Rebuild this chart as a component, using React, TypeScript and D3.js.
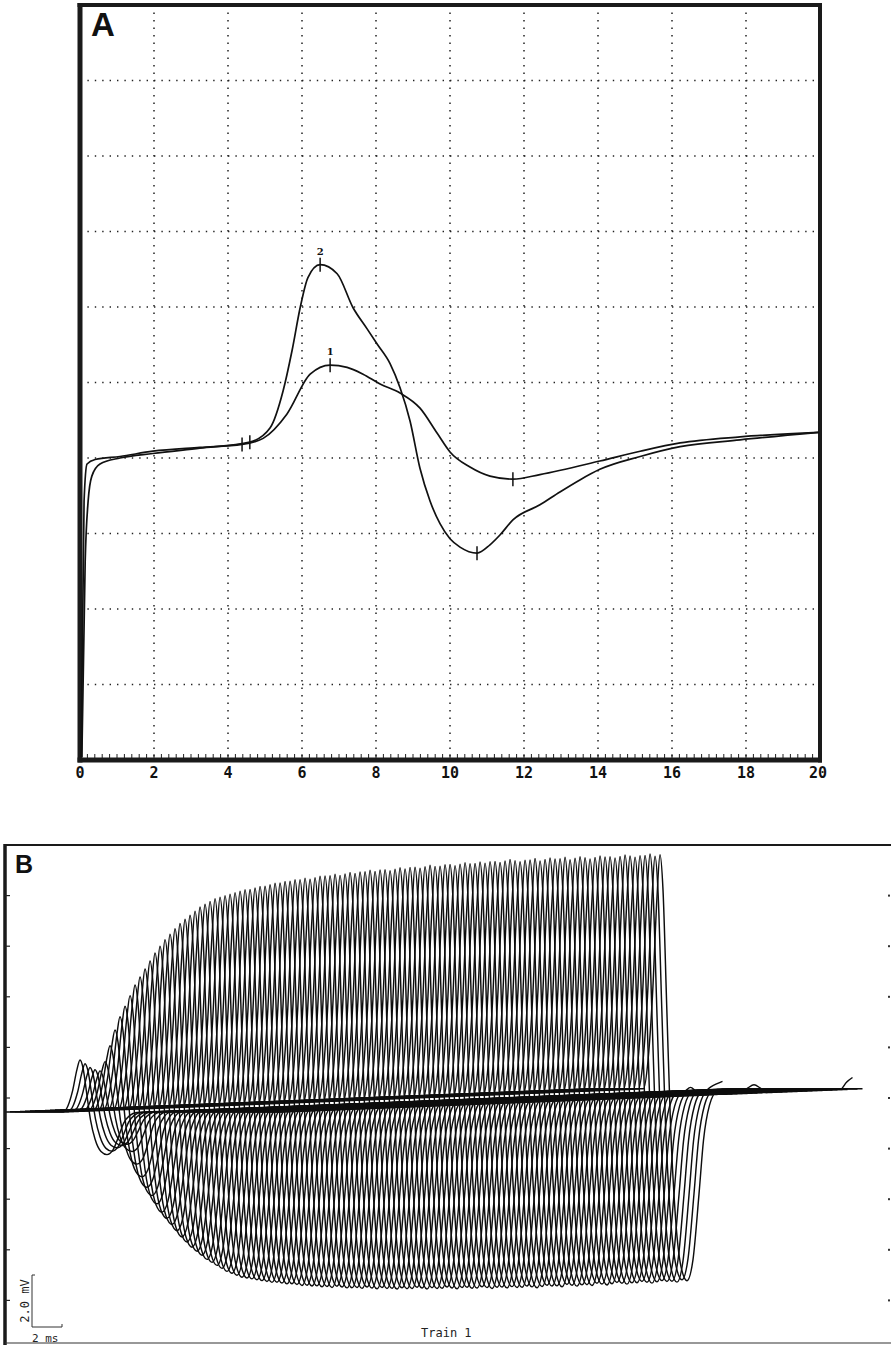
import { useEffect, useRef } from "react";
import * as d3 from "d3";

type Pt = [number, number];

// ---- panel A: two averaged responses, time in ms, amplitude in screen divisions
const respOne: Pt[] = [
  [0.03, 0.04], [0.11, 3.43], [0.19, 3.92], [0.41, 3.98], [1.08, 4.02], [1.97, 4.09],
  [3.24, 4.14], [4.38, 4.18], [4.95, 4.26], [5.59, 4.58], [6.22, 5.11], [6.76, 5.23],
  [7.22, 5.2], [7.65, 5.11], [8.11, 4.98], [8.65, 4.86], [9.19, 4.66], [9.65, 4.33],
  [10.0, 4.08], [10.54, 3.88], [11.08, 3.76], [11.7, 3.72], [12.43, 3.78], [14.05, 3.96],
  [15.14, 4.09], [16.22, 4.2], [17.84, 4.28], [19.97, 4.34],
];
const respTwo: Pt[] = [
  [0.05, 0.04], [0.14, 2.63], [0.22, 3.43], [0.32, 3.76], [0.54, 3.92], [1.08, 4.0],
  [1.97, 4.06], [3.24, 4.13], [4.59, 4.21], [5.14, 4.4], [5.49, 4.89], [5.73, 5.42],
  [5.95, 5.99], [6.16, 6.39], [6.49, 6.56], [6.95, 6.44], [7.38, 5.99], [7.76, 5.71],
  [8.03, 5.51], [8.38, 5.25], [8.65, 4.93], [8.92, 4.49], [9.19, 3.86], [9.46, 3.43],
  [9.73, 3.13], [10.0, 2.93], [10.27, 2.82], [10.73, 2.74], [11.08, 2.85], [11.35, 2.98],
  [11.7, 3.18], [12.43, 3.38], [12.97, 3.55], [13.51, 3.71], [14.05, 3.85], [15.14, 4.02],
  [16.22, 4.15], [17.84, 4.24], [19.97, 4.34],
];
// cursor marks: onset, peak, trough
const cursorsOne: Pt[] = [[4.38, 4.18], [6.76, 5.23], [11.7, 3.72]];
const cursorsTwo: Pt[] = [[4.59, 4.21], [6.49, 6.56], [10.73, 2.74]];
const timeTicksA = [0, 2, 4, 6, 8, 10, 12, 14, 16, 18, 20];
const divisionsA = [1, 2, 3, 4, 5, 6, 7, 8, 9];

// ---- panel B: repetitive stimulation train, one CMAP per sweep
// normalised CMAP shape (ms after stimulus, fraction of the positive peak)
const cmapShape: Pt[] = [
  [0, 0], [3.9, 0], [4.2, 0.12], [4.5, 0.4], [4.8, 0.82], [5.0, 1.0], [5.2, 0.85],
  [5.45, 0.35], [5.7, -0.15], [6.0, -0.52], [6.4, -0.76], [6.8, -0.82], [7.2, -0.73],
  [7.6, -0.45], [7.9, -0.22], [8.3, -0.07], [8.8, -0.01], [9.5, 0], [18.5, 0],
];
// positive peak amplitude of each sweep, mV
const sweepAmps = [
  2.0, 1.85, 1.7, 1.6, 1.55, 1.9, 2.5, 3.1, 3.6, 4.0,
  4.4, 4.8, 5.1, 5.4, 5.7, 6.0, 6.25, 6.5, 6.7, 6.9,
  7.1, 7.25, 7.4, 7.55, 7.7, 7.8, 7.9, 8.0, 8.05, 8.1,
  8.15, 8.2, 8.25, 8.3, 8.3, 8.35, 8.4, 8.4, 8.45, 8.5,
  8.5, 8.55, 8.55, 8.6, 8.6, 8.65, 8.6, 8.65, 8.7, 8.7,
  8.7, 8.75, 8.7, 8.75, 8.8, 8.75, 8.8, 8.8, 8.85, 8.8,
  8.85, 8.85, 8.8, 8.85, 8.9, 8.85, 8.9, 8.9, 8.85, 8.9,
  8.95, 8.9, 8.9, 8.95, 8.95, 8.9, 8.95, 9.0, 8.95, 8.95,
  9.0, 8.95, 9.0, 9.0, 8.95, 9.0, 9.05, 9.0, 8.95, 9.0,
  9.0, 9.05, 8.95, 9.0, 9.05, 9.0, 9.0, 9.05, 8.95, 9.0,
  9.05, 9.0, 8.95, 9.0, 9.05, 9.0, 9.0, 8.95, 9.0, 9.05,
  9.0, 8.95, 9.0, 9.0, 9.05, 8.95, 9.0,
];
// small late waves: sweep, centre ms, height mV, half width ms
const lateWaves: [number, number, number, number][] = [
  [84, 17.7, 0.3, 0.6],
  [88, 18.5, 0.5, 1.5],
  [97, 17.6, 0.3, 0.8],
  [114, 18.5, 0.45, 0.8],
];
const divisionsB = [1, 2, 3, 4, 5, 6, 7, 8, 9];

const mono = "'DejaVu Sans Mono', monospace";
const sans = "'Liberation Sans', Arial, sans-serif";

function drawA(g: d3.Selection<SVGGElement, unknown, null, undefined>) {
  const x = d3.scaleLinear().domain([0, 20]).range([80, 820]);
  const y = d3.scaleLinear().domain([0, 10]).range([760, 5]);

  g.selectAll("line.vgrid").data(timeTicksA.slice(1, -1)).join("line")
    .attr("class", "vgrid")
    .attr("x1", d => x(d)).attr("x2", d => x(d))
    .attr("y1", y(10)).attr("y2", y(0))
    .attr("stroke", "#222").attr("stroke-width", 1.5)
    .attr("stroke-dasharray", "1.4 6.1");
  g.selectAll("line.hgrid").data(divisionsA).join("line")
    .attr("class", "hgrid")
    .attr("x1", x(0)).attr("x2", x(20))
    .attr("y1", d => y(d)).attr("y2", d => y(d))
    .attr("stroke", "#222").attr("stroke-width", 1.5)
    .attr("stroke-dasharray", "1.4 6");

  // minor ticks along the time axis
  g.selectAll("line.minor").data(d3.range(1, 100).map(k => k * 0.2)).join("line")
    .attr("class", "minor")
    .attr("x1", d => x(d)).attr("x2", d => x(d))
    .attr("y1", y(0) - 2).attr("y2", y(0) - 6)
    .attr("stroke", "#222").attr("stroke-width", 1);

  // frame
  const frame = g.append("g").attr("stroke", "#1a1a1a").attr("fill", "none");
  frame.append("line").attr("x1", x(0)).attr("x2", x(0)).attr("y1", y(10) - 2).attr("y2", y(0) + 2.5).attr("stroke-width", 5);
  frame.append("line").attr("x1", x(0) - 2.5).attr("x2", x(20) + 2).attr("y1", y(0)).attr("y2", y(0)).attr("stroke-width", 5);
  frame.append("line").attr("x1", x(0) - 2.5).attr("x2", x(20) + 2).attr("y1", y(10)).attr("y2", y(10)).attr("stroke-width", 4);
  frame.append("line").attr("x1", x(20)).attr("x2", x(20)).attr("y1", y(10) - 2).attr("y2", y(0) + 2.5).attr("stroke-width", 4);

  g.selectAll("text.tick").data(timeTicksA).join("text")
    .attr("class", "tick")
    .attr("x", d => x(d) - (d === 20 ? 2 : 0)).attr("y", y(0) + 18)
    .attr("text-anchor", "middle")
    .attr("font-family", mono).attr("font-weight", "bold").attr("font-size", 15)
    .attr("fill", "#111")
    .text(d => d);

  const line = d3.line<Pt>().x(d => x(d[0])).y(d => y(d[1])).curve(d3.curveMonotoneX);
  [respOne, respTwo].forEach(r => {
    g.append("path").datum(r)
      .attr("d", line)
      .attr("fill", "none").attr("stroke", "#111").attr("stroke-width", 1.7);
  });

  [cursorsOne, cursorsTwo].forEach((cs, k) => {
    g.selectAll("line.cur" + k).data(cs).join("line")
      .attr("class", "cur" + k)
      .attr("x1", d => x(d[0])).attr("x2", d => x(d[0]))
      .attr("y1", d => y(d[1]) - 7).attr("y2", d => y(d[1]) + 7)
      .attr("stroke", "#111").attr("stroke-width", 1.5);
    const peak = cs[1];
    g.append("text")
      .attr("x", x(peak[0])).attr("y", y(peak[1]) - 10)
      .attr("text-anchor", "middle")
      .attr("font-family", "'DejaVu Serif', serif").attr("font-weight", "bold").attr("font-size", 10)
      .attr("fill", "#111")
      .text(k + 1);
  });

  g.append("text")
    .attr("x", 91).attr("y", 36)
    .attr("font-family", sans).attr("font-weight", "bold").attr("font-size", 33)
    .attr("fill", "#111")
    .text("A");
}

function drawB(g: d3.Selection<SVGGElement, unknown, null, undefined>) {
  const xB = d3.scaleLinear().domain([0, 59]).range([5, 890]);   // 15 px per ms
  const yB = d3.scaleLinear().domain([0, 10]).range([1112, 852]); // 26 px per mV
  const div = d3.scaleLinear().domain([0, 10]).range([845, 1351]);
  const sweepDx = 5;
  const sweepDy = -0.2;
  const sweepLen = 18.5;

  const line = d3.line<Pt>().x(d => xB(d[0])).y(d => yB(d[1])).curve(d3.curveMonotoneX);

  const traces = g.append("g").attr("fill", "none").attr("stroke", "#0d0d0d").attr("stroke-width", 1.45);
  sweepAmps.forEach((amp, i) => {
    let pts: Pt[] = cmapShape.map(([t, v]) => [t, v * amp] as Pt);
    const waves = lateWaves.filter(w => w[0] === i);
    if (waves.length) {
      pts = pts.slice(0, -1);
      let closed = true;
      waves.forEach(([, c, h, w]) => {
        const extra: Pt[] = [[c - w, 0], [c - w / 2, h * 0.6], [c, h], [c + w / 2, h * 0.6], [c + w, 0]];
        extra.forEach(p => { if (p[0] <= sweepLen) pts.push(p); });
        if (c + w > sweepLen) closed = false;
      });
      if (closed) pts.push([sweepLen, 0]);
    }
    traces.append("path")
      .attr("d", line(pts))
      .attr("transform", `translate(${i * sweepDx},${i * sweepDy})`);
  });

  // frame and division marks
  const frame = g.append("g").attr("stroke", "#1a1a1a");
  frame.append("line").attr("x1", 4).attr("x2", 891).attr("y1", 845).attr("y2", 845).attr("stroke-width", 2.2);
  frame.append("line").attr("x1", 5).attr("x2", 5).attr("y1", 844).attr("y2", 1345).attr("stroke-width", 3.5);
  frame.append("line").attr("x1", 5).attr("x2", 891).attr("y1", 1343).attr("y2", 1343).attr("stroke-width", 1.2).attr("stroke", "#333");
  g.selectAll("line.ltick").data(divisionsB).join("line")
    .attr("class", "ltick")
    .attr("x1", 5).attr("x2", 10)
    .attr("y1", d => div(d)).attr("y2", d => div(d))
    .attr("stroke", "#222").attr("stroke-width", 1.2);
  g.selectAll("rect.rtick").data(divisionsB).join("rect")
    .attr("class", "rtick")
    .attr("x", 888).attr("y", d => div(d) - 1)
    .attr("width", 2).attr("height", 2)
    .attr("fill", "#333");

  // scale bar
  const bx = 32, by = 1327;
  const barW = xB(2) - xB(0);
  const barH = yB(0) - yB(2);
  const bar = g.append("g").attr("stroke", "#333").attr("stroke-width", 1).attr("fill", "none");
  bar.append("path").attr("d", `M${bx + 3},${by - barH}H${bx}V${by}H${bx + barW}V${by - 3}`);
  g.append("text")
    .attr("transform", `translate(${bx - 3},${by - barH / 2}) rotate(-90)`)
    .attr("text-anchor", "middle")
    .attr("font-family", mono).attr("font-size", 12).attr("fill", "#222")
    .text("2.0 mV");
  g.append("text")
    .attr("x", bx).attr("y", 1342)
    .attr("font-family", mono).attr("font-size", 11).attr("fill", "#222")
    .text("2 ms");

  g.append("text")
    .attr("x", 421).attr("y", 1337)
    .attr("font-family", mono).attr("font-size", 12).attr("fill", "#222")
    .text("Train 1");

  g.append("text")
    .attr("x", 15).attr("y", 873)
    .attr("font-family", sans).attr("font-weight", "bold").attr("font-size", 25)
    .attr("fill", "#111")
    .text("B");
}

export default function App() {
  const ref = useRef<SVGSVGElement>(null);
  useEffect(() => {
    const svg = d3.select(ref.current);
    svg.selectAll("*").remove();
    drawA(svg.append("g"));
    drawB(svg.append("g"));
  }, []);
  return (
    <svg
      ref={ref}
      width={891}
      height={1345}
      style={{ position: "absolute", left: 0, top: 0, background: "#fff" }}
    />
  );
}
